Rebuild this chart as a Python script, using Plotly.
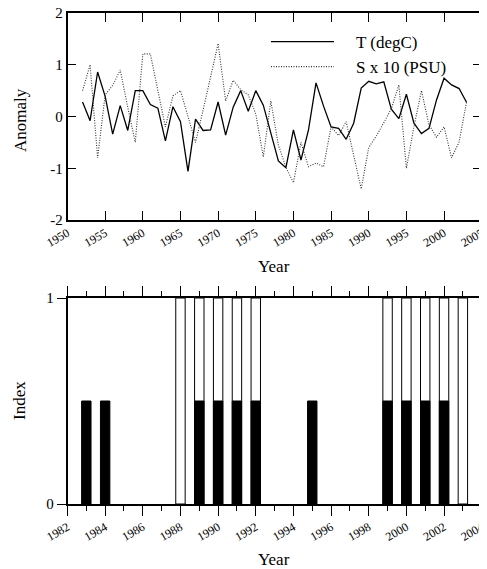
import plotly.graph_objects as go

# ---- data ----
years = list(range(1952, 2004))
T_degC = [0.28, -0.08, 0.86, 0.39, -0.34, 0.21, -0.27, 0.50, 0.50, 0.23,
          0.16, -0.47, 0.19, -0.10, -1.06, -0.05, -0.27, -0.26, 0.28, -0.36,
          0.18, 0.50, 0.10, 0.50, 0.22, -0.30, -0.86, -0.99, -0.26, -0.84,
          -0.26, 0.65, 0.20, -0.20, -0.23, -0.44, -0.13, 0.55, 0.68, 0.63,
          0.67, 0.14, -0.04, 0.43, -0.13, -0.33, -0.23, 0.32, 0.74, 0.61,
          0.54, 0.27]
S_x10 = [0.50, 1.00, -0.80, 0.42, 0.60, 0.90, 0.18, -0.50, 1.21, 1.21,
         0.50, -0.20, 0.40, 0.50, 0.00, -0.50, 0.12, 0.78, 1.41, 0.30,
         0.70, 0.52, 0.42, 0.05, -0.78, 0.30, -0.55, -0.98, -1.28, -0.50,
         -0.97, -0.90, -0.97, -0.20, -0.37, -0.10, -0.75, -1.40, -0.60, -0.38,
         -0.12, 0.15, 0.61, -1.00, -0.20, 0.50, -0.16, -0.40, -0.20, -0.80,
         -0.49, 0.29]

index_full_years = [1988, 1989, 1990, 1991, 1992, 1999, 2000, 2001, 2002, 2003]
index_full_vals = [1] * len(index_full_years)
index_half_years = [1983, 1984, 1989, 1990, 1991, 1992, 1995, 1999, 2000, 2001, 2002]
index_half_vals = [0.5] * len(index_half_years)

top_xticks = [1950, 1955, 1960, 1965, 1970, 1975, 1980, 1985, 1990, 1995, 2000, 2005]
top_yticks = [-2, -1, 0, 1, 2]
top_yticklabels = ["-2", "-1", "0", "1", "2"]
bot_xticks = list(range(1982, 2005, 2))
bot_yticks = [0, 1]

FONT = "Liberation Serif"
OFF = 8                      # page body margin offset
W, H = 487 - OFF, 569 - OFF  # figure size in px


def px(x):
    return (x - OFF) / W


def py(y):
    return 1 - (y - OFF) / H


NB = "\u00a0" * 4

fig = go.Figure()
fig.add_trace(go.Scatter(x=years, y=T_degC, mode="lines", name=NB + "T (degC)",
                         line=dict(color="black", width=1.3),
                         xaxis="x", yaxis="y"))
fig.add_trace(go.Scatter(x=years, y=S_x10, mode="lines", name=NB + "S x 10 (PSU)",
                         line=dict(color="#333", width=1.1, dash="1px,1.5px"),
                         xaxis="x", yaxis="y"))
fig.add_trace(go.Bar(x=index_full_years, y=index_full_vals, width=0.5,
                     marker=dict(color="white", line=dict(color="black", width=1)),
                     showlegend=False, xaxis="x2", yaxis="y2"))
fig.add_trace(go.Bar(x=index_half_years, y=index_half_vals, width=0.5,
                     marker=dict(color="black", line=dict(color="black", width=1)),
                     showlegend=False, xaxis="x2", yaxis="y2"))

xdom = [px(67.5), px(481.7)]
base = dict(showline=True, linecolor="black", linewidth=1.5, mirror="ticks",
            showgrid=False, zeroline=False, tickcolor="black", tickwidth=1.2,
            automargin=False, ticklabeloverflow="allow")
xfont = dict(family=FONT, size=12, color="black")
yfont = dict(family=FONT, size=15, color="black")
tfont = dict(family=FONT, size=17, color="black")

fig.update_layout(
    width=W, height=H,
    margin=dict(l=0, r=0, t=0, b=0, autoexpand=False),
    paper_bgcolor="white", plot_bgcolor="white",
    barmode="overlay",
    font=dict(family=FONT, color="black"),
    xaxis=dict(domain=xdom, anchor="y", range=[1950, 2005],
               tickvals=top_xticks, ticks="inside", ticklen=9, tickangle=-30,
               tickfont=xfont, **base),
    yaxis=dict(domain=[py(220), py(13)], anchor="x", range=[-2, 2],
               tickvals=top_yticks, ticktext=top_yticklabels,
               ticks="inside", ticklen=9, tickfont=yfont, **base),
    xaxis2=dict(domain=xdom, anchor="y2", range=[1982, 2004],
                tickvals=bot_xticks, ticks="outside", ticklen=10, tickangle=-30,
                minor=dict(dtick=1, tick0=1982, ticklen=5, ticks="outside",
                           tickcolor="black", tickwidth=1.2),
                tickfont=xfont, **base),
    yaxis2=dict(domain=[py(504), py(298)], anchor="x2", range=[0, 1],
                tickvals=bot_yticks, ticks="outside", ticklen=9, tickfont=yfont,
                **base),
    legend=dict(x=px(266), y=py(24), xanchor="left", yanchor="top",
                bgcolor="rgba(0,0,0,0)", itemwidth=63, tracegroupgap=0,
                font=tfont),
    annotations=[
        dict(text="Anomaly", x=px(20), y=py(120), textangle=-90),
        dict(text="Year", x=px(274), y=py(266)),
        dict(text="Index", x=px(19), y=py(401), textangle=-90),
        dict(text="Year", x=px(274), y=py(559)),
    ],
)
fig.update_annotations(xref="paper", yref="paper", showarrow=False,
                       xanchor="center", yanchor="middle", font=tfont)

fig.write_html("out.html")
